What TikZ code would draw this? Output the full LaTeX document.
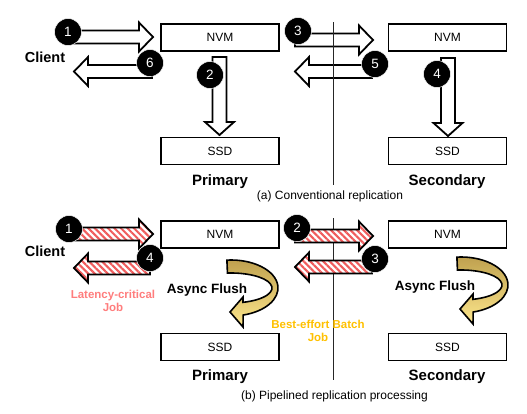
\documentclass[tikz,border=0pt]{standalone}
\usepackage{fontspec}
\setmainfont{Liberation Sans}
\usetikzlibrary{patterns.meta}
\definecolor{hatchred}{RGB}{240,92,92}
\definecolor{latred}{RGB}{255,125,125}
\definecolor{goldtxt}{RGB}{255,192,0}
\definecolor{flushtop}{RGB}{190,160,78}
\definecolor{flushbot}{RGB}{253,230,140}

% right/left block arrow: #1 style, #2 tail x, #3 tip x, #4 centre y
\newcommand\hblock[4]{%
  \pgfmathsetmacro\hbx{#3-14*sign(#3-#2)}%
  \draw[#1] (#2,#4-6.5) -- (\hbx,#4-6.5) -- (\hbx,#4-14.5) -- (#3,#4)
    -- (\hbx,#4+14.5) -- (\hbx,#4+6.5) -- (#2,#4+6.5) -- cycle;}
% downward block arrow: #1 style, #2 centre x, #3 top y, #4 tip y
\newcommand\vblock[4]{%
  \pgfmathsetmacro\hby{#4-13}%
  \draw[#1] (#2-7,#3) -- (#2+7,#3) -- (#2+7,\hby) -- (#2+14.5,\hby) -- (#2,#4)
    -- (#2-14.5,\hby) -- (#2-7,\hby) -- cycle;}
% curved flush arrow centred at (#1,#2)
\newcommand\flusharrow[2]{%
  \draw[flush] (#1-4.1,#2-27.9) arc[start angle=265,end angle=435,x radius=47,y radius=28]
    -- (#1+12,#2+39) -- (#1-1,#2+24) -- (#1+12,#2+9) -- (#1+12,#2+14.34)
    arc[start angle=433,end angle=265,x radius=41,y radius=15] -- cycle;}

\begin{document}
\begin{tikzpicture}[x=1pt,y=-1pt,
  box/.style={draw, line width=1.8pt, fill=white, minimum width=118pt, minimum height=27pt,
    inner sep=0pt, font=\fontsize{12}{14}\selectfont},
  num/.style={circle, fill=black, draw=white, line width=0.5pt, minimum size=27pt, inner sep=0pt,
    text=white, font=\fontsize{13.5}{15}\selectfont},
  hollow/.style={draw, line width=1.8pt, fill=white, line join=miter},
  hatched/.style={draw, line width=1.8pt, line join=miter, preaction={fill=white},
    pattern={Lines[angle=-45,distance=4.6pt,line width=2.1pt]}, pattern color=hatchred},
  flush/.style={draw, line width=1.6pt, line join=miter, top color=flushtop, bottom color=flushbot},
  client/.style={font=\bfseries\fontsize{14.5}{16}\selectfont},
  role/.style={font=\bfseries\fontsize{15}{17}\selectfont},
  captxt/.style={font=\fontsize{12}{14}\selectfont},
  job/.style={align=center, font=\bfseries\fontsize{11.5}{13}\selectfont},
  asy/.style={font=\bfseries\fontsize{13.5}{15}\selectfont},
  sep/.style={line width=0.8pt, draw=black!85}
]
\useasboundingbox (0,0) rectangle (527,413);

% ---------------- (a) ----------------
\node[box] (nvmPa) at (220,37.5) {NVM};
\node[box] (nvmSa) at (447.5,37.5) {NVM};
\node[box] (ssdPa) at (220,151) {SSD};
\node[box] (ssdSa) at (447.5,151) {SSD};

\hblock{hollow}{70}{153}{37}
\hblock{hollow}{152}{74}{71.5}
\vblock{hollow}{219.5}{57}{135}
\hblock{hollow}{295}{373}{40}
\hblock{hollow}{372}{295}{71.5}
\vblock{hollow}{448}{58}{136}

\node[num] (a1) at (68,32) {1};
\node[num] (a6) at (150,63) {6};
\node[num] (a2) at (210,75) {2};
\node[num] (a3) at (298,31) {3};
\node[num] (a5) at (375,64) {5};
\node[num] (a4) at (437,74) {4};

\node[client] (cla) at (45,57) {Client};
\node[role] (pa) at (220,182) {Primary};
\node[role] (sa) at (447,182) {Secondary};
\node[captxt] (capa) at (330,196) {(a) Conventional replication};

\coordinate (va1) at (333,22);
\coordinate (va2) at (333,185);
\draw[sep] (va1) -- (va2);

% ---------------- (b) ----------------
\node[box] (nvmPb) at (220,234.5) {NVM};
\node[box] (nvmSb) at (447.5,234.5) {NVM};
\node[box] (ssdPb) at (220,347) {SSD};
\node[box] (ssdSb) at (447.5,347) {SSD};

\coordinate (vb1) at (333,218);
\coordinate (vb2) at (333,380);
\draw[sep] (vb1) -- (vb2);

\hblock{hatched}{70}{153}{234}
\hblock{hatched}{150}{74}{268}
\hblock{hatched}{295}{373}{236}
\hblock{hatched}{372}{295}{267}

\flusharrow{231}{288}
\flusharrow{461}{285}

\node[num] (b1) at (69,229) {1};
\node[num] (b4) at (150,258) {4};
\node[num] (b2) at (297,228) {2};
\node[num] (b3) at (375,259) {3};

\node[client] (clb) at (45,251) {Client};
\node[job, text=latred] (lat) at (113,300.5) {Latency-critical\\Job};
\node[job, text=goldtxt] (best) at (318,331) {Best-effort Batch\\Job};
\node[asy] (asyP) at (207,290) {Async Flush};
\node[asy] (asyS) at (435,287) {Async Flush};
\node[role] (pb) at (220,377) {Primary};
\node[role] (sb) at (447,377) {Secondary};
\node[captxt] (capb) at (334.5,396) {(b) Pipelined replication processing};
\end{tikzpicture}
\end{document}
